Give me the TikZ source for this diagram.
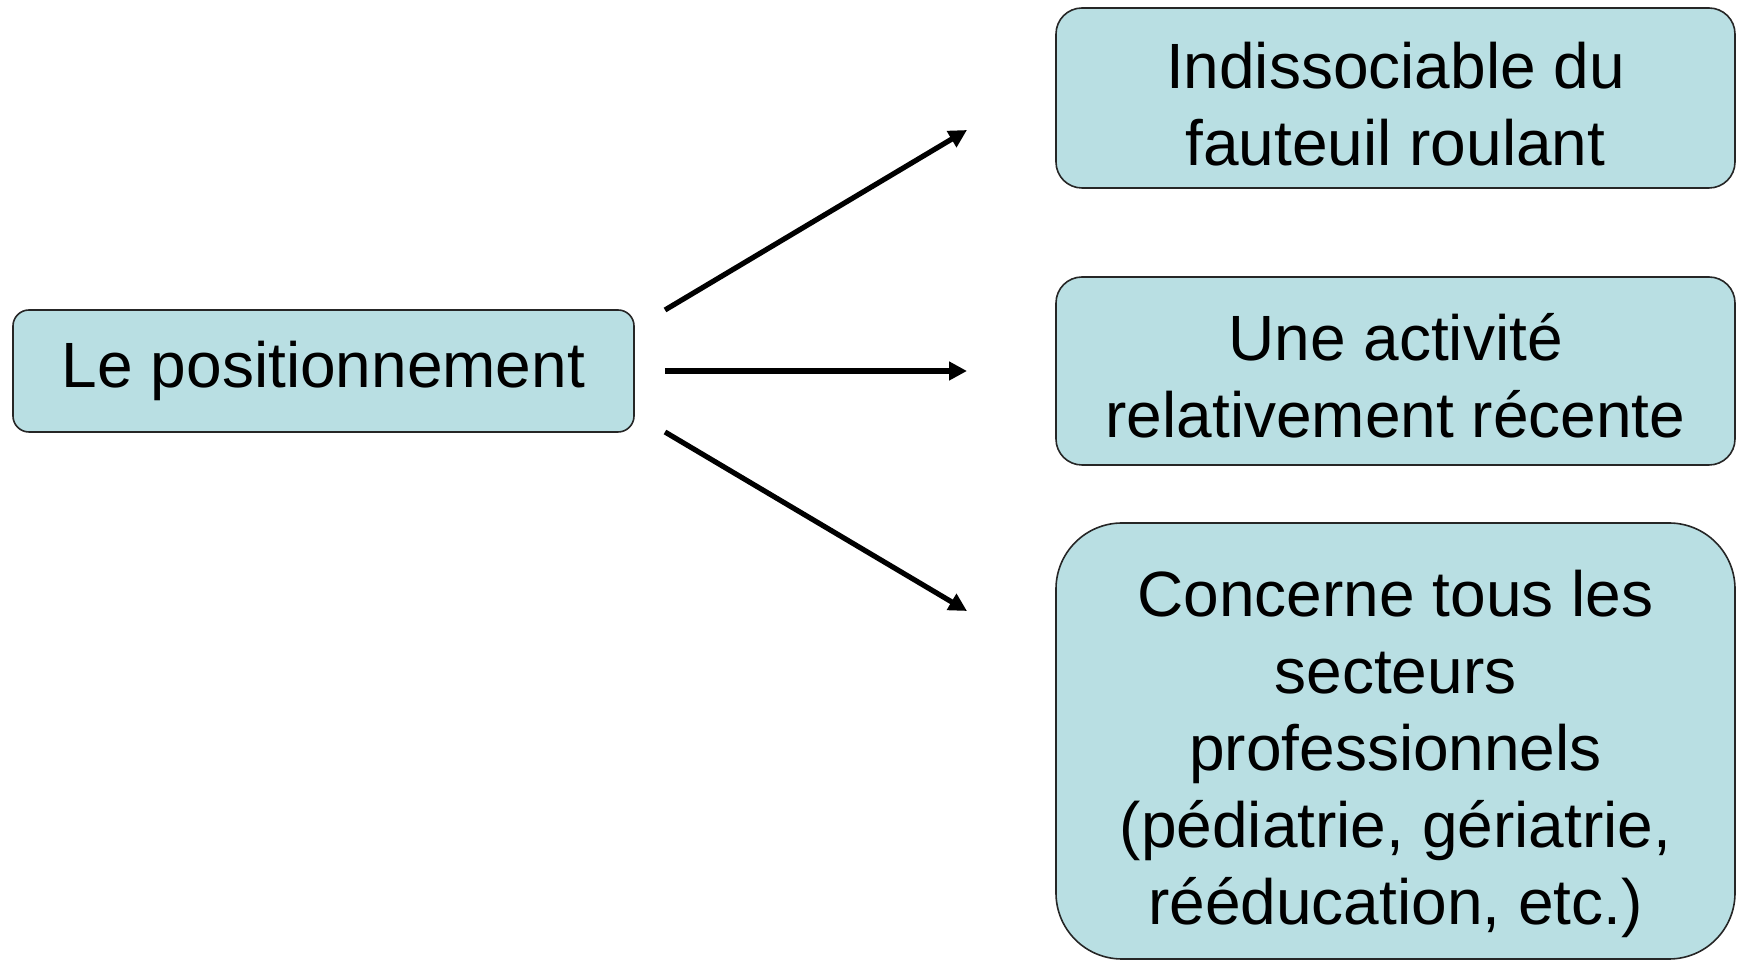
\documentclass[tikz,border=0pt]{standalone}
\usepackage{fontspec}
\setmainfont{Liberation Sans}
\usetikzlibrary{arrows.meta}
\definecolor{bleuboite}{RGB}{185,223,227}
\newcommand{\hautligne}[1]{\rule{0pt}{#1}}

\begin{document}
\begin{tikzpicture}[x=0.5pt, y=-0.5pt,
		bloc/.style={draw=black!85, line width=0.8pt, fill=bleuboite, align=center, inner sep=0pt,
			font=\fontsize{32}{38.5}\selectfont},
		fleche/.style={-{Triangle[length=9pt, width=9pt]}, line width=2.6pt}]
				\useasboundingbox (0,0) rectangle (1737,961);
				\node[bloc, rectangle, rounded corners=8pt, minimum width=310.5pt, minimum height=61pt] (pos)at(323.5, 371) {Le positionnement};
				\node[bloc, rectangle, rounded corners=13pt, minimum width=339.5pt, minimum height=90pt] (fauteuil)at(1395.5, 98) {\hautligne{29pt}Indissociable du\\fauteuil roulant};
				\node[bloc, rectangle, rounded corners=13pt, minimum width=339.5pt, minimum height=94pt] (activite)at(1395.5, 371) {\hautligne{28pt}Une activité\\relativement récente};
				\node[bloc, rectangle, rounded corners=33pt, minimum width=339.5pt, minimum height=218pt] (secteurs)at(1395.5, 741) {\hautligne{36pt}Concerne tous les\\secteurs\\professionnels\\(pédiatrie, gériatrie,\\rééducation, etc.)};
				\coordinate (d1)at(665, 310);
				\coordinate (d2)at(665, 371);
				\coordinate (d3)at(665, 432);
				\coordinate (a1)at(967, 130);
				\coordinate (a2)at(967, 371);
				\coordinate (a3)at(967, 611);
				\draw[fleche] (d1) -- (a1);
				\draw[fleche] (d2) -- (a2);
				\draw[fleche] (d3) -- (a3);
			\end{tikzpicture}
\end{document}
